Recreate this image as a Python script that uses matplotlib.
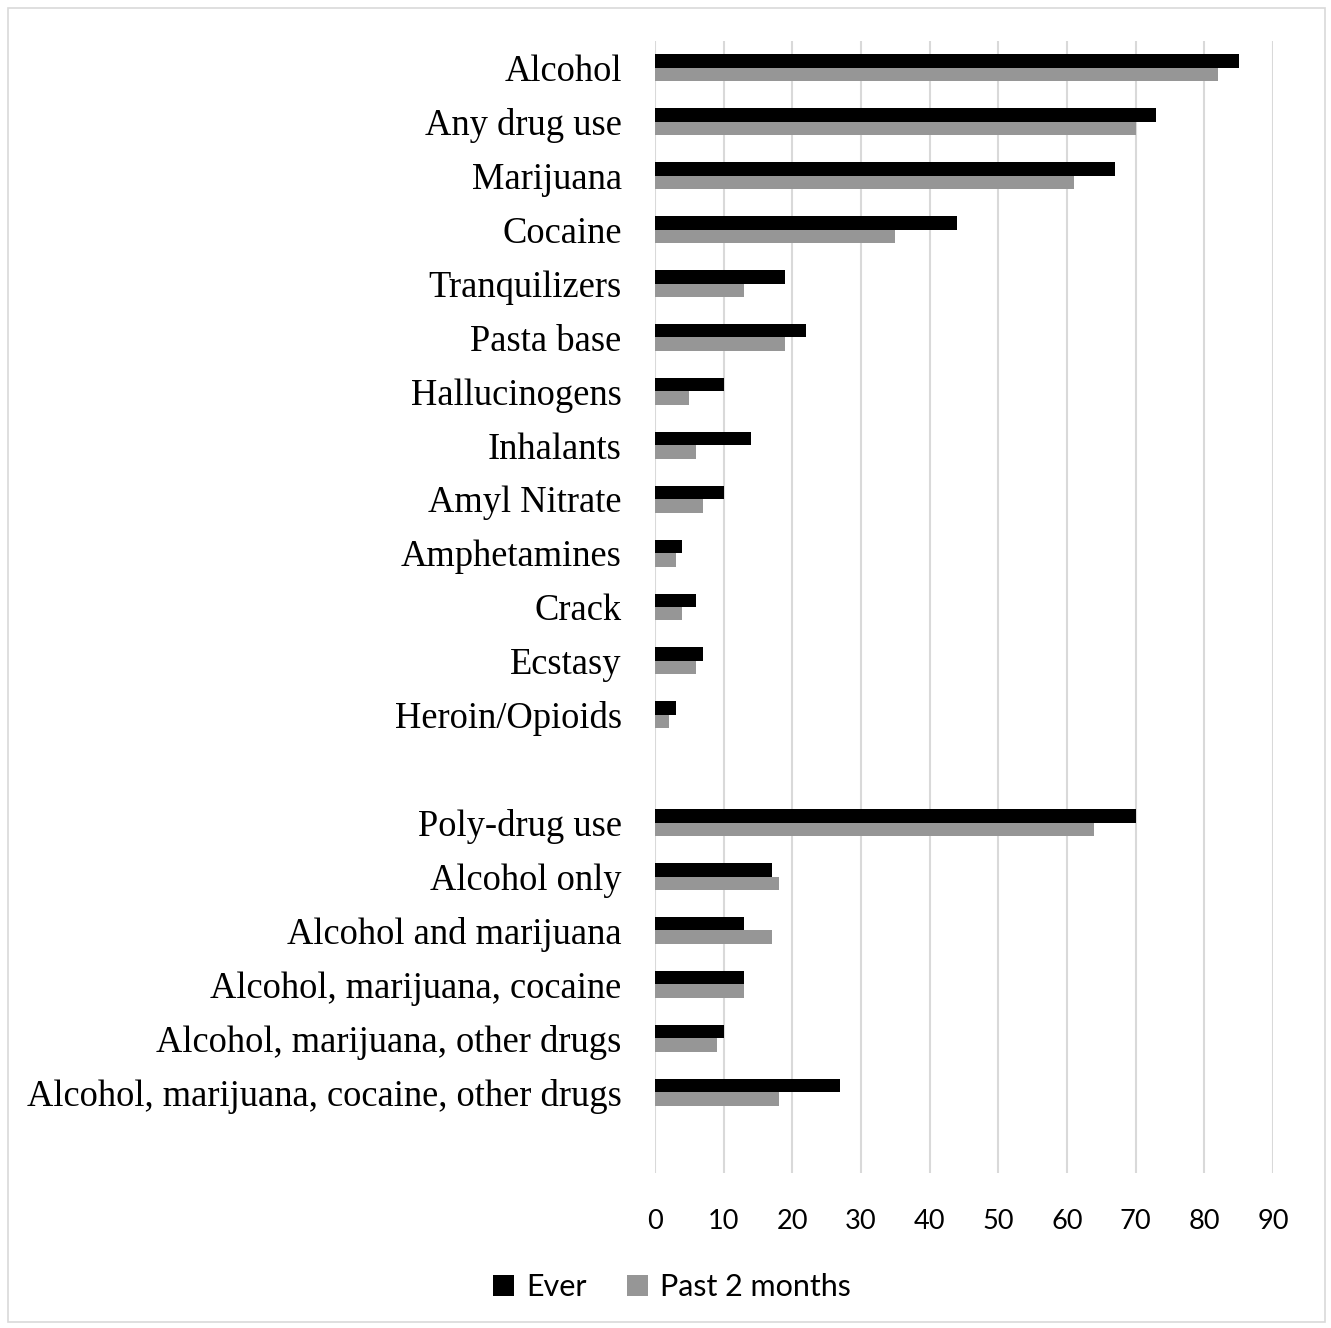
import matplotlib.pyplot as plt
import numpy as np
from matplotlib.patches import Rectangle

# categorias (cadena vacia = hueco)
categories = ["Alcohol", "Any drug use", "Marijuana", "Cocaine", "Tranquilizers",
              "Pasta base", "Hallucinogens", "Inhalants", "Amyl Nitrate",
              "Amphetamines", "Crack", "Ecstasy", "Heroin/Opioids", "",
              "Poly-drug use", "Alcohol only", "Alcohol and marijuana",
              "Alcohol, marijuana, cocaine", "Alcohol, marijuana, other drugs",
              "Alcohol, marijuana, cocaine, other drugs", ""]
ever = [85, 73, 67, 44, 19, 22, 10, 14, 10, 4, 6, 7, 3, np.nan,
        70, 17, 13, 13, 10, 27, np.nan]
past2 = [82, 70, 61, 35, 13, 19, 5, 6, 7, 3, 4, 6, 2, np.nan,
         64, 18, 17, 13, 9, 18, np.nan]
ticks = [0, 10, 20, 30, 40, 50, 60, 70, 80, 90]

W, H = 1331, 1328
fig = plt.figure(figsize=(W / 100, H / 100), dpi=100)
ax = fig.add_axes([655 / W, 1 - 1173 / H, (1273 - 655) / W, (1173 - 41) / H])

y = np.arange(len(categories))
h = 0.25
ax.barh(y - h / 2, ever, height=h, color="black", label="Ever", zorder=3)
ax.barh(y + h / 2, past2, height=h, color="#969696", label="Past 2 months", zorder=3)

ax.set_xlim(0, 90)
ax.set_ylim(len(categories) - 0.5, -0.5)
ax.set_xticks(ticks)
ax.set_xticklabels([str(t) for t in ticks], fontsize=19.5, family=["Lato", "DejaVu Sans"])
ax.set_yticks(y)
ax.set_yticklabels(categories, fontsize=26.3, family=["Liberation Serif", "DejaVu Serif"])
ax.tick_params(axis="both", length=0)
ax.tick_params(axis="x", pad=26)
ax.tick_params(axis="y", pad=24)
ax.grid(axis="x", color="#d9d9d9", linewidth=1.5, zorder=0)
for s in ax.spines.values():
    s.set_visible(False)

leg = fig.legend(loc="center", bbox_to_anchor=(672 / W, 1 - 1287 / H), ncol=2,
                 frameon=False, prop={"family": ["Lato", "DejaVu Sans"], "size": 22},
                 handlelength=0.7, handleheight=0.7, handletextpad=0.4, columnspacing=1.3)

fig.patches.append(Rectangle((8 / W, 6 / H), (1325 - 8) / W, (1320 - 6) / H,
                             transform=fig.transFigure, fill=False,
                             edgecolor="#d9d9d9", linewidth=1.2))

fig.savefig("out.png", dpi=100)
